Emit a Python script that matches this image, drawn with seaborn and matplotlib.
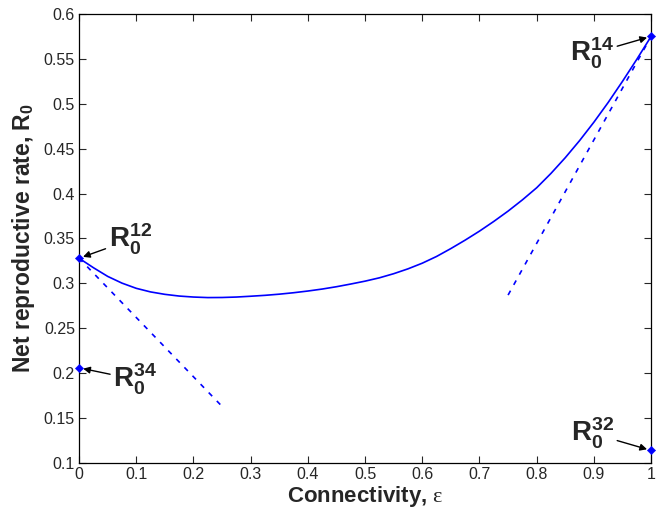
import matplotlib
matplotlib.use("Agg")
import matplotlib.pyplot as plt
import seaborn as sns
import numpy as np

# Data
eps = [0.0, 0.025, 0.05, 0.075, 0.1, 0.125, 0.15, 0.175, 0.2, 0.225, 0.25, 0.275,
       0.3, 0.325, 0.35, 0.375, 0.4, 0.425, 0.45, 0.475, 0.5, 0.525, 0.55, 0.575,
       0.6, 0.625, 0.65, 0.675, 0.7, 0.725, 0.75, 0.775, 0.8, 0.825, 0.85, 0.875,
       0.9, 0.925, 0.95, 0.975, 1.0]
r0 = [0.3280, 0.3175, 0.3078, 0.3003, 0.2945, 0.2905, 0.2878, 0.2859, 0.2848,
      0.2842, 0.2843, 0.2848, 0.2857, 0.2867, 0.2880, 0.2896, 0.2915, 0.2937,
      0.2963, 0.2993, 0.3025, 0.3062, 0.3108, 0.3162, 0.3225, 0.3300, 0.3388,
      0.3482, 0.3582, 0.3690, 0.3805, 0.3930, 0.4065, 0.4225, 0.4400, 0.4590,
      0.4795, 0.5015, 0.5250, 0.5495, 0.5750]

tan1_x = [0.0, 0.25]
tan1_y = [0.328, 0.163]
tan2_x = [0.75, 1.0]
tan2_y = [0.287, 0.575]

pts_x = [0.0, 0.0, 1.0, 1.0]
pts_y = [0.328, 0.206, 0.575, 0.114]
pts_lab = ["12", "34", "14", "32"]

sns.set_style("ticks")
plt.rcParams['font.family'] = ['Liberation Sans', 'DejaVu Sans']
plt.rcParams['mathtext.fontset'] = 'custom'
plt.rcParams['mathtext.rm'] = 'Liberation Serif'
plt.rcParams['mathtext.it'] = 'Liberation Serif:italic'
plt.rcParams['mathtext.bf'] = 'Liberation Sans:bold'

fig = plt.figure(figsize=(6.59, 5.12), dpi=100)
ax = fig.add_axes([0.12, 0.0957, 0.868, 0.877])

blue = (0, 0, 1)
sns.lineplot(x=eps, y=r0, ax=ax, color=blue, lw=1.2, sort=False)
sns.lineplot(x=tan1_x, y=tan1_y, ax=ax, color=blue, lw=1.2, linestyle=(0, (3, 4)))
sns.lineplot(x=tan2_x, y=tan2_y, ax=ax, color=blue, lw=1.2, linestyle=(0, (3, 4)))
sns.scatterplot(x=pts_x, y=pts_y, ax=ax, color=blue, marker='D', s=18,
                edgecolor=blue, zorder=5, clip_on=False)

ax.set_xlim(0, 1)
ax.set_ylim(0.1, 0.6)
ax.set_xticks(np.arange(0, 1.01, 0.1))
ax.set_xticklabels(["0", "0.1", "0.2", "0.3", "0.4", "0.5", "0.6", "0.7", "0.8", "0.9", "1"])
ax.set_yticks(np.arange(0.1, 0.601, 0.05))
ax.set_yticklabels(["0.1", "0.15", "0.2", "0.25", "0.3", "0.35", "0.4", "0.45", "0.5", "0.55", "0.6"])
ax.tick_params(direction='in', top=True, right=True, length=5, width=0.8,
               labelsize=11.5, pad=3)
for s in ax.spines.values():
    s.set_linewidth(0.9)
    s.set_color('black')

ax.set_xlabel(r"Connectivity, $\mathrm{\varepsilon}$", fontsize=16, fontweight='bold', labelpad=1)
ax.set_ylabel(r"Net reproductive rate, $\mathbf{R_0}$", fontsize=16.5, fontweight='bold', labelpad=5)

# annotations: (text xy in data, text alignment)
ann = [
    ((0.052, 0.3485), 'left'),
    ((0.060, 0.193), 'left'),
    ((0.935, 0.556), 'right'),
    ((0.935, 0.133), 'right'),
]
for (px, py, lab), ((tx, ty), ha) in zip(zip(pts_x, pts_y, pts_lab), ann):
    ax.annotate(r"$\mathbf{R_0^{%s}}$" % lab, xy=(px, py), xytext=(tx, ty),
                textcoords='data', ha=ha, va='center', fontsize=20,
                arrowprops=dict(arrowstyle='-|>', color='black', lw=1.0,
                                mutation_scale=10, shrinkA=0, shrinkB=3),
                annotation_clip=False)

fig.savefig("out.png", dpi=100)
